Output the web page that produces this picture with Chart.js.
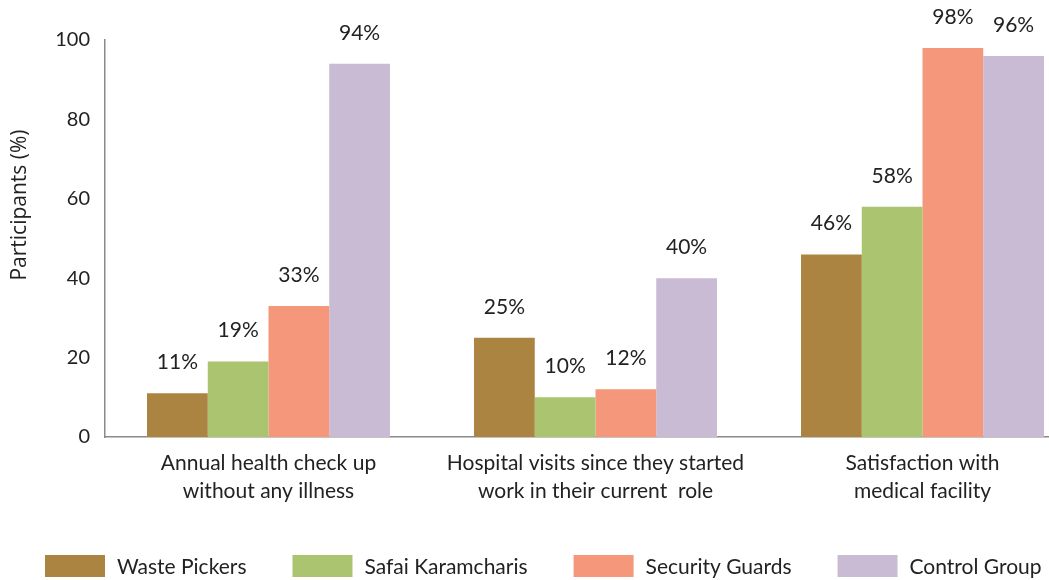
<!DOCTYPE html>
<html>
<head>
<meta charset="utf-8">
<script src="https://cdn.jsdelivr.net/npm/chart.js@4/dist/chart.umd.min.js"></script>
<style>
  html, body { margin: 0; padding: 0; background: #fff; overflow: hidden; }
  /* plot runs a little past the right edge of the window */
  #wrap { width: 1088px; height: 580px; position: relative; }
</style>
</head>
<body>
<div id="wrap"><canvas id="healthChart"></canvas></div>
<script>
// Health access by worker group
const categories = [
    ['Annual health check up', 'without any illness'],
    ['Hospital visits since they started', 'work in their current  role'],
    ['Satisfaction with', 'medical facility']
];
const groups = ['Waste Pickers', 'Safai Karamcharis', 'Security Guards', 'Control Group'];
const wastePickers = [11, 25, 46];
const safaiKaramcharis = [19, 10, 58];
const securityGuards = [33, 12, 98];
const controlGroup = [94, 40, 96];
const yTicks = [0, 20, 40, 60, 80, 100];
const yTitle = 'Participants (%)';

const colors = ['#AB8441', '#AAC46F', '#F4977A', '#C9BBD3'];
const seriesValues = [wastePickers, safaiKaramcharis, securityGuards, controlGroup];

// percentage labels above bars, rotated y title and a single-row legend
const extras = {
    id: 'extras',
    afterDatasetsDraw(chart) {
        const ctx = chart.ctx;
        ctx.save();
        ctx.font = '21px Lato';
        ctx.fillStyle = '#222';
        ctx.textAlign = 'center';
        ctx.textBaseline = 'middle';
        chart.data.datasets.forEach((ds, i) => {
            chart.getDatasetMeta(i).data.forEach((bar, j) => {
                ctx.fillText(ds.data[j] + '%', bar.x, bar.y - 31);
            });
        });

        // legend row
        ctx.textAlign = 'left';
        let x = 45;
        const y = 566;
        chart.data.datasets.forEach(ds => {
            ctx.fillStyle = ds.backgroundColor;
            ctx.fillRect(x, y - 11, 60, 22);
            ctx.fillStyle = '#222';
            ctx.fillText(ds.label, x + 72, y + 1);
            x += 72 + ctx.measureText(ds.label).width + 46;
        });

        ctx.translate(20, 205);
        ctx.rotate(-Math.PI / 2);
        ctx.textAlign = 'center';
        ctx.font = '21px "Open Sans"';
        ctx.fillText(yTitle, 0, 0);
        ctx.restore();
    }
};

new Chart(document.getElementById('healthChart'), {
    type: 'bar',
    data: {
        labels: categories,
        datasets: groups.map((g, i) => ({
            label: g,
            data: seriesValues[i],
            backgroundColor: colors[i],
            borderWidth: 0,
            categoryPercentage: 0.743,
            barPercentage: 1
        }))
    },
    options: {
        responsive: true,
        maintainAspectRatio: false,
        animation: false,
        layout: { padding: { top: 40, right: 2, left: 28, bottom: 69 } },
        plugins: {
            tooltip: { enabled: false },
            legend: { display: false }
        },
        scales: {
            x: {
                afterFit(axis) { axis.height = 74; },
                grid: { display: false },
                border: { color: '#8a8a8a', width: 1.5 },
                ticks: { color: '#222', padding: 5, font: { family: 'Lato', size: 21, lineHeight: 1.3 } }
            },
            y: {
                min: 0,
                max: 100,
                afterBuildTicks(axis) { axis.ticks = yTicks.map(v => ({ value: v })); },
                afterFit(axis) { axis.width = 77; },
                grid: { display: false },
                border: { color: '#8a8a8a', width: 1.5 },
                ticks: { color: '#222', padding: 7, font: { family: 'Lato', size: 20 } }
            }
        }
    },
    plugins: [extras]
});
</script>
</body>
</html>
